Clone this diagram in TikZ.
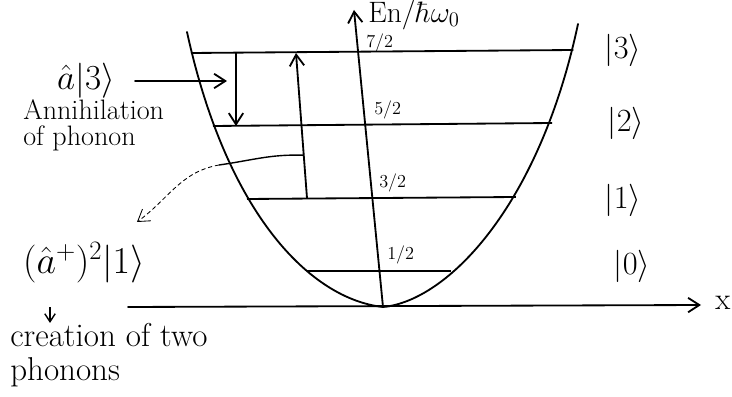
\RequirePackage{fix-cm}
\documentclass[tikz,border=0pt]{standalone}
\usepackage{fontspec}
\usepackage{tikz}
\usetikzlibrary{arrows.meta,positioning,calc}
\tikzset{
  hand/.style={line width=1.3pt, line cap=round},
  enlevel/.style={line width=1.3pt},
  lvlnum/.style={font=\fontsize{13}{13}\selectfont, anchor=base west, inner sep=0pt},
  ket/.style={font=\fontsize{23}{23}\selectfont, inner sep=0pt},
  note/.style={align=left, inner sep=0pt, anchor=north west},
}

\begin{document}
\begin{tikzpicture}[>={Straight Barb[length=2.8mm,width=3.6mm]}]
    \useasboundingbox (-9.575,-2.225) rectangle (8.725,7.675);
    % axes
    \coordinate (O) at (0,0);
    \coordinate (xl) at (-6.375,0);
    \coordinate (xr) at (7.95,0.05);
    \coordinate (Etop) at (-0.725,7.425);
    \draw[hand,->] (xl) -- (xr);
    \draw[hand,->] (O) -- (Etop);
    \node[font=\fontsize{22}{22}\selectfont, anchor=west, inner sep=0pt] (xlab) at (8.3,0.1) {x};
    \node[font=\fontsize{21}{21}\selectfont, anchor=base west, inner sep=0pt] (Elab) at (-0.375,7.12) {En/$\hbar\omega_0$};
    % potential well
    \draw[hand] (-4.9,6.875) .. controls (-3.9,2.3) and (-1.8,0.2) .. (O)
                .. controls (1.6,0.15) and (3.9,2.5) .. (4.875,7.075);
    % levels
    \coordinate (l3w) at (-4.8,6.35);   \coordinate (l3e) at (4.76,6.425);
    \coordinate (l2w) at (-4.25,4.525); \coordinate (l2e) at (4.23,4.6);
    \coordinate (l1w) at (-3.4,2.7);    \coordinate (l1e) at (3.32,2.75);
    \coordinate (l0w) at (-1.9,0.9);    \coordinate (l0e) at (1.7,0.9);
    \draw[enlevel] (l3w) -- (l3e);
    \draw[enlevel] (l2w) -- (l2e);
    \draw[enlevel] (l1w) -- (l1e);
    \draw[enlevel] (l0w) -- (l0e);
    \node[lvlnum] (e3) at (-0.425,6.475) {7/2};
    \node[lvlnum] (e2) at (-0.225,4.8) {5/2};
    \node[lvlnum] (e1) at (-0.1,2.975) {3/2};
    \node[lvlnum] (e0) at (0.1,1.175) {1/2};
    \node[ket] (k3) at (6.0,6.425) {$|3\rangle$};
    \node[ket] (k2) at (6.075,4.6) {$|2\rangle$};
    \node[ket] (k1) at (6.0,2.675) {$|1\rangle$};
    \node[ket] (k0) at (6.225,1.025) {$|0\rangle$};
    % annihilation
    \node[font=\fontsize{25}{25}\selectfont, inner sep=0pt] (annop) at (-7.425,5.65) {$\hat{a}|3\rangle$};
    \node[note, font=\fontsize{20}{19}\selectfont] (anntxt) at (-9.0,5.2) {Annihilation\\of phonon};
    \coordinate (anntip) at (-3.9,5.65);
    \draw[hand,->,shorten <=0.5cm] (annop.east) -- (anntip);
    \coordinate (ann0) at (-3.675,6.35);
    \draw[hand,->] (ann0) -- (ann0 |- l2w);
    % creation
    \coordinate (cre0) at (-1.9,2.725);
    \coordinate (cre1) at (-2.175,6.35);
    \draw[hand,->] (cre0) -- (cre1);
    \coordinate (hook) at ($(cre0)!0.295!(cre1)$);
    \coordinate (knee) at (-4.1,3.55);
    \coordinate (hooktip) at (-6.15,2.125);
    \draw[line width=1pt] (hook) to[out=178,in=8] (knee);
    \draw[densely dashed, line width=0.6pt, ->] (knee) to[out=190,in=36] (hooktip);
    \node[font=\fontsize{27}{27}\selectfont, inner sep=0pt] (creop) at (-7.475,1.1) {$(\hat{a}^{+})^{2}|1\rangle$};
    \node[note, font=\fontsize{23.5}{24}\selectfont] (cretxt) at (-9.325,-0.4) {creation of two\\phonons};
    \coordinate (crefoot) at (-8.325,0);
    \draw[line width=1pt, -{Straight Barb[length=2mm,width=2.6mm]}] (crefoot) -- (crefoot |- cretxt.north);
\end{tikzpicture}
\end{document}
